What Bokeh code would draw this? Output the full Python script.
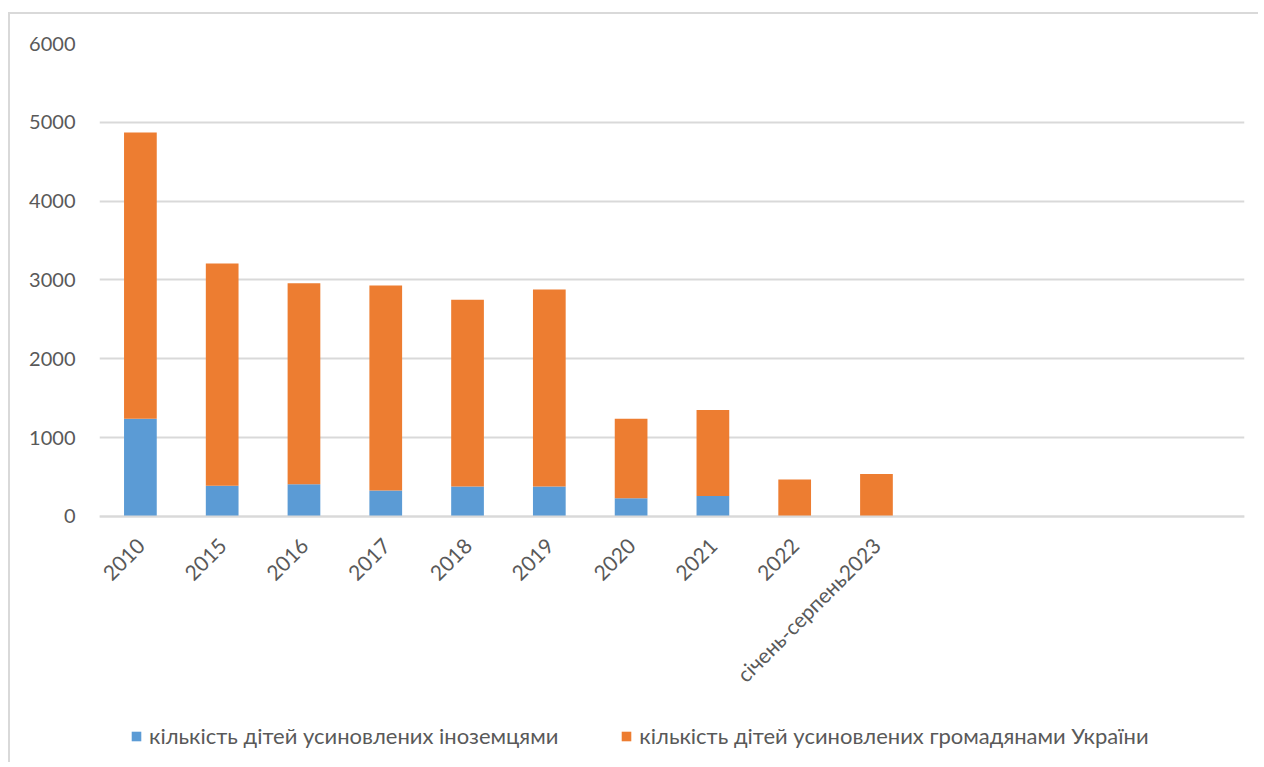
from math import pi
from bokeh.plotting import figure
from bokeh.models import (ColumnDataSource, FactorRange, Legend, LegendItem, Range1d,
                          FixedTicker)
from bokeh.embed import file_html
from bokeh.resources import INLINE

categories = ["2010", "2015", "2016", "2017", "2018", "2019", "2020", "2021", "2022",
              "січень-серпень2023", " ", "  ", "   ", "    "]
foreign = [1240, 390, 410, 330, 380, 380, 230, 260, 0, 0, 0, 0, 0, 0]
ukrainian = [3630, 2820, 2550, 2600, 2370, 2500, 1010, 1090, 470, 540, 0, 0, 0, 0]
y_ticks = [0, 1000, 2000, 3000, 4000, 5000, 6000]
series_names = ["кількість дітей усиновлених іноземцями",
                "кількість дітей усиновлених громадянами України"]
colors = ["#5B9BD5", "#ED7D31"]

source = ColumnDataSource(dict(cat=categories, foreign=foreign, ukrainian=ukrainian))

FONT = "Lato"
TXT = "#595959"

# frame extends below the zero line so the rotated labels and legend sit inside it
p = figure(x_range=FactorRange(*categories, range_padding=0), y_range=Range1d(-3146, 6000),
           width=1250, height=750, output_backend="svg", toolbar_location=None,
           min_border_left=89, min_border_right=16, min_border_top=29, min_border_bottom=0)
p.styles = {"border-left": "2px solid #d9d9d9", "border-top": "2px solid #d9d9d9",
            "margin-left": "8px", "margin-top": "12px"}
p.outline_line_color = None

r = p.vbar_stack(["foreign", "ukrainian"], x="cat", width=0.4, color=colors, source=source,
                 line_color=None)

p.yaxis.ticker = FixedTicker(ticks=y_ticks)
p.yaxis.axis_line_color = None
p.yaxis.major_tick_line_color = None
p.yaxis.minor_tick_line_color = None
p.yaxis.major_label_text_font = FONT
p.yaxis.major_label_text_font_size = "20px"
p.yaxis.major_label_text_color = TXT
p.yaxis.major_label_standoff = 18

p.xaxis.fixed_location = 0
p.xaxis.axis_line_color = "#d9d9d9"
p.xaxis.axis_line_width = 2
p.xaxis.major_tick_line_color = None
p.xaxis.minor_tick_line_color = None
p.xaxis.major_label_orientation = pi / 4
p.xaxis.major_label_text_font = FONT
p.xaxis.major_label_text_font_size = "21px"
p.xaxis.major_label_text_color = TXT
p.xaxis.major_label_standoff = 19

p.xgrid.grid_line_color = None
p.ygrid.grid_line_color = "#d9d9d9"
p.ygrid.grid_line_width = 2

legend = Legend(items=[LegendItem(label=series_names[0], renderers=[r[0]]),
                       LegendItem(label=series_names[1], renderers=[r[1]])],
                orientation="horizontal", location=(31, 15))
legend.border_line_color = None
legend.background_fill_alpha = 0
legend.label_text_font = FONT
legend.label_text_font_size = "22px"
legend.label_text_color = TXT
legend.glyph_width = 12
legend.glyph_height = 12
legend.spacing = 62
legend.label_standoff = 7
legend.padding = 6
legend.margin = 0
p.add_layout(legend, "center")

open("out.html", "w").write(file_html(p, INLINE))
